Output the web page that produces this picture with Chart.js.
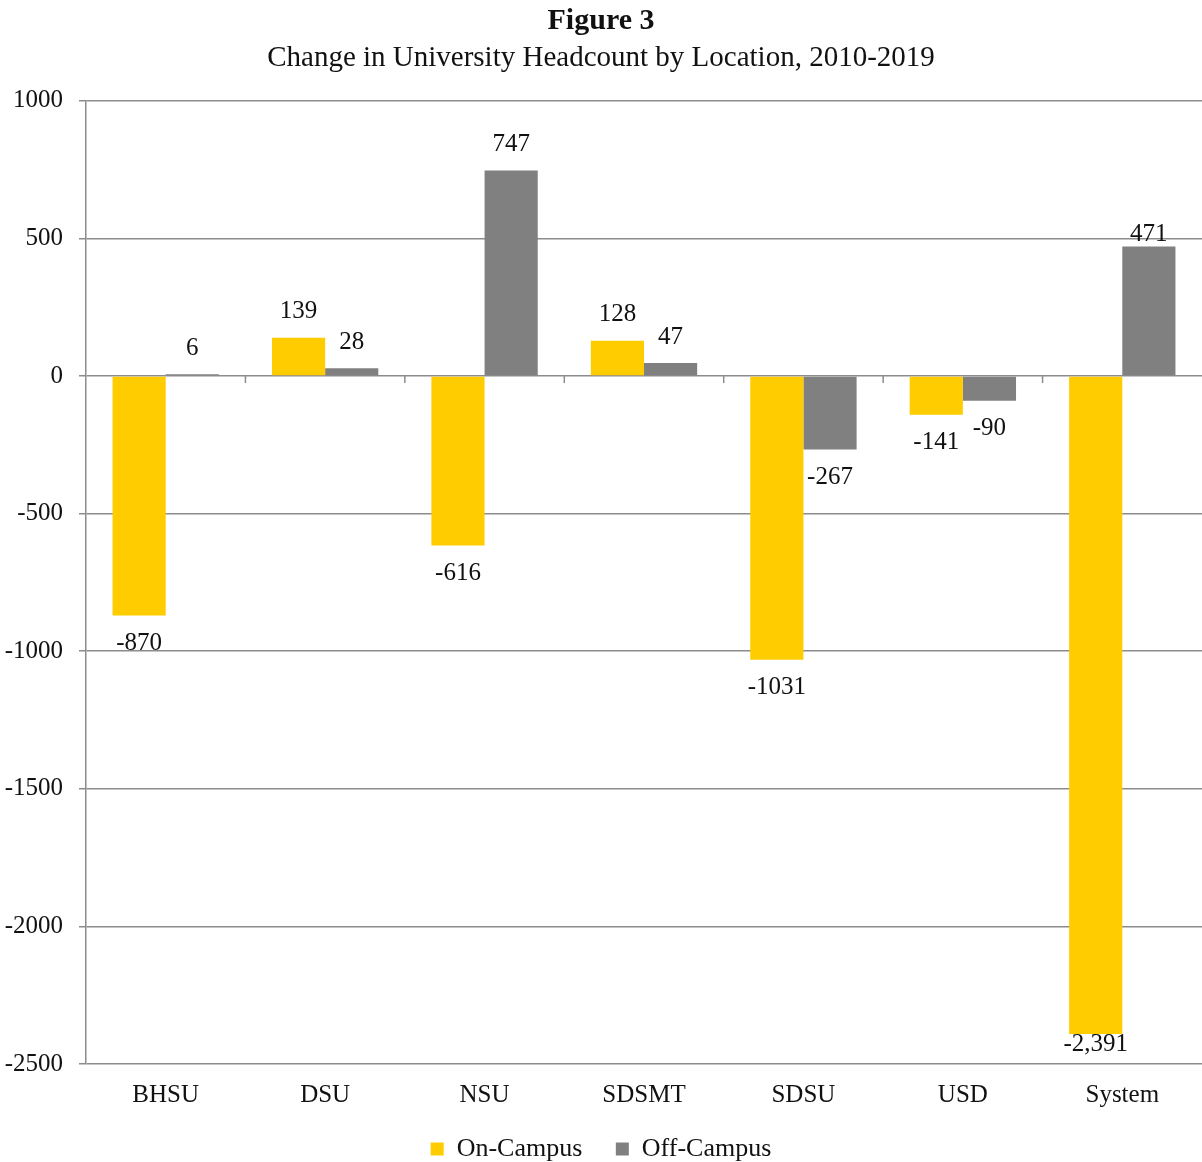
<!DOCTYPE html>
<html>
<head>
<meta charset="utf-8">
<script src="https://cdn.jsdelivr.net/npm/chart.js@4"></script>
<style>
  html, body { margin: 0; padding: 0; background: #fff; }
  #wrap { width: 1202px; height: 1162px; position: relative; }
</style>
</head>
<body>
<div id="wrap"><canvas id="chart"></canvas></div>
<script>
// Chart data
const CATEGORIES = ['BHSU', 'DSU', 'NSU', 'SDSMT', 'SDSU', 'USD', 'System'];
const SERIES = ['On-Campus', 'Off-Campus'];
const ON_CAMPUS = [-870, 139, -616, 128, -1031, -141, -2391];
const OFF_CAMPUS = [6, 28, 747, 47, -267, -90, 471];
const Y_TICKS = [1000, 500, 0, -500, -1000, -1500, -2000, -2500];

const FONT = '"Liberation Serif", "DejaVu Serif", serif';
const GRID = '#8c8c8c';

function fmt(v) {
    return Math.abs(v) >= 2000 ? v.toLocaleString('en-US') : String(v);
}

// Value labels above/below each bar
const valueLabels = {
    id: 'valueLabels',
    afterDatasetsDraw(chart) {
        const ctx = chart.ctx;
        const area = chart.chartArea;
        ctx.save();
        ctx.font = '25px ' + FONT;
        ctx.fillStyle = '#111';
        ctx.textAlign = 'center';
        ctx.textBaseline = 'middle';
        chart.data.datasets.forEach((ds, di) => {
            chart.getDatasetMeta(di).data.forEach((bar, i) => {
                const v = ds.data[i];
                let y = v >= 0 ? bar.y - 26 : bar.y + 28;
                if (y > area.bottom - 10) y = bar.y + 10;
                // the System off-campus label sits low, as in the original
                if (CATEGORIES[i] === 'System' && v > 0) y = bar.y - 12;
                ctx.fillText(fmt(v), bar.x, y);
            });
        });
        ctx.restore();
    }
};

// Little category ticks hanging from the zero line
const zeroTicks = {
    id: 'zeroTicks',
    afterDatasetsDraw(chart) {
        const x = chart.scales.x, y = chart.scales.y;
        const y0 = y.getPixelForValue(0);
        const ctx = chart.ctx;
        ctx.save();
        ctx.strokeStyle = GRID;
        ctx.lineWidth = 1.5;
        for (let i = 0; i < CATEGORIES.length - 1; i++) {
            const bx = (x.getPixelForValue(i) + x.getPixelForValue(i + 1)) / 2;
            ctx.beginPath();
            ctx.moveTo(bx, y0);
            ctx.lineTo(bx, y0 + 7);
            ctx.stroke();
        }
        ctx.restore();
    }
};

// push the legend a bit lower, into the bottom margin
const legendShift = {
    id: 'legendShift',
    afterLayout(chart) {
        if (chart.legend) {
            chart.legend.top += 10;
            chart.legend.bottom += 10;
        }
    }
};

function init() {
    const ctx = document.getElementById('chart').getContext('2d');
    new Chart(ctx, {
        type: 'bar',
        data: {
            labels: CATEGORIES,
            datasets: [
                { label: SERIES[0], data: ON_CAMPUS, backgroundColor: '#FFCC00' },
                { label: SERIES[1], data: OFF_CAMPUS, backgroundColor: '#808080' }
            ]
        },
        options: {
            responsive: true,
            maintainAspectRatio: false,
            animation: false,
            datasets: { bar: { categoryPercentage: 0.667, barPercentage: 1.0 } },
            layout: { padding: { left: 0, right: 0, top: 3, bottom: 0 } },
            scales: {
                x: {
                    afterFit(scale) { scale.height = 61; },
                    grid: { display: false, drawTicks: false },
                    border: { display: false },
                    ticks: { color: '#111', font: { family: FONT, size: 25 }, padding: 16 }
                },
                y: {
                    min: -2500,
                    max: 1000,
                    afterBuildTicks(scale) { scale.ticks = Y_TICKS.map(v => ({ value: v })); },
                    afterFit(scale) { scale.width = 86; },
                    grid: { color: GRID, lineWidth: 1.5, tickLength: 7 },
                    border: { color: GRID, width: 1.5 },
                    ticks: {
                        color: '#111',
                        font: { family: FONT, size: 25 },
                        padding: 16,
                        callback: v => String(v)
                    }
                }
            },
            plugins: {
                title: {
                    display: true,
                    text: 'Figure 3',
                    color: '#111',
                    font: { family: FONT, size: 30, weight: 'bold' },
                    padding: { top: 0, bottom: 2 }
                },
                subtitle: {
                    display: true,
                    text: 'Change in University Headcount by Location, 2010-2019',
                    color: '#111',
                    font: { family: FONT, size: 29 },
                    padding: { top: 0, bottom: 25 }
                },
                legend: {
                    position: 'bottom',
                    labels: {
                        color: '#111',
                        font: { family: FONT, size: 26 },
                        boxWidth: 13,
                        boxHeight: 13,
                        padding: 1,
                        generateLabels(chart) {
                            const items = Chart.defaults.plugins.legend.labels.generateLabels(chart);
                            items.forEach((it, i) => {
                                if (i < items.length - 1) it.text = it.text + '     ';
                            });
                            return items;
                        }
                    }
                },
                tooltip: { enabled: false }
            }
        },
        plugins: [valueLabels, zeroTicks, legendShift]
    });
}

document.addEventListener('DOMContentLoaded', init);
</script>
</body>
</html>
